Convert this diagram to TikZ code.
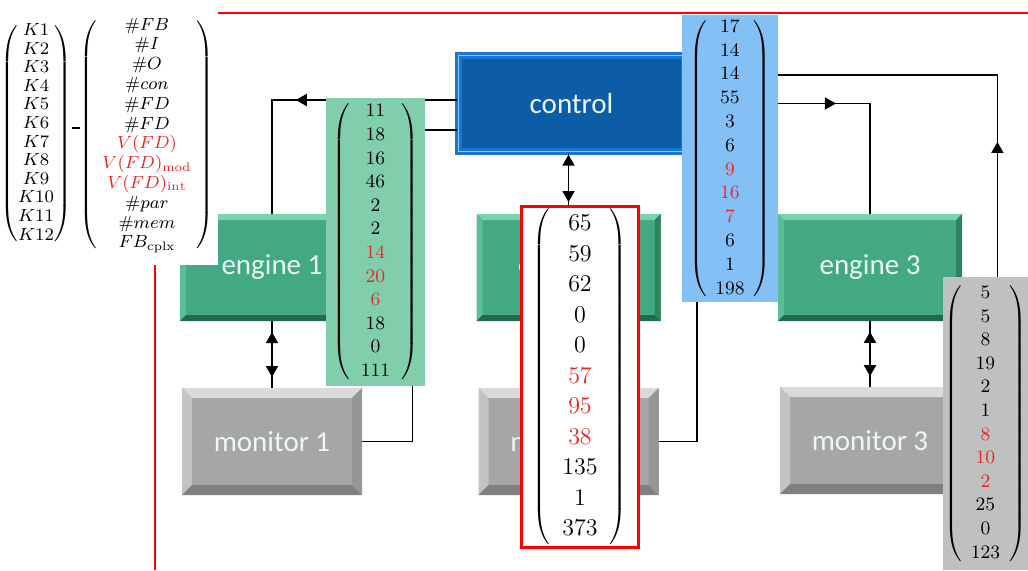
\RequirePackage{fix-cm}
\documentclass[tikz,border=0pt]{standalone}
\usepackage{fontspec}
\usepackage{xcolor}
\usetikzlibrary{arrows.meta, positioning, decorations.markings}
\newfontfamily\boxfont{Carlito}
\definecolor{engfill}{RGB}{67,169,130}
\definecolor{engtop}{RGB}{120,210,170}
\definecolor{engleft}{RGB}{90,190,150}
\definecolor{engbot}{RGB}{35,105,78}
\definecolor{engright}{RGB}{50,130,95}
\definecolor{monfill}{RGB}{166,166,166}
\definecolor{montop}{RGB}{218,218,218}
\definecolor{monleft}{RGB}{195,195,195}
\definecolor{monbot}{RGB}{128,128,128}
\definecolor{monright}{RGB}{150,150,150}
\definecolor{ctrlfill}{RGB}{12,92,168}
\definecolor{ctrlblue}{RGB}{25,118,210}
\definecolor{ctrllight}{RGB}{150,200,240}
\definecolor{greenvec}{RGB}{128,206,172}
\definecolor{bluevec}{RGB}{130,192,245}
\definecolor{greyvec}{RGB}{192,192,192}
\definecolor{vecred}{RGB}{230,40,40}
\definecolor{boxtext}{RGB}{235,248,245}
\newcommand{\colvec}[4]{{\fontsize{#2}{#3}\selectfont\setlength{\arraycolsep}{#1}$\left(\begin{array}{c}#4\end{array}\right)$}}
\newcommand{\redval}[1]{\textcolor{vecred}{#1}}

\begin{document}
\begin{tikzpicture}[
    x=0.5pt, y=-0.5pt,
    >=latex,
    % Styles for the bevelled boxes
    bevel/.style n args={5}{path picture={
        \coordinate (bnw) at (path picture bounding box.north west);
        \coordinate (bse) at (path picture bounding box.south east);
        \coordinate (bne) at (bnw -| bse);
        \coordinate (bsw) at (bnw |- bse);
        \fill[#2] (bnw) -- (bne) -- ([shift={(-#1,-#1)}]bne) -- ([shift={(#1,-#1)}]bnw) -- cycle;
        \fill[#3] (bnw) -- ([shift={(#1,-#1)}]bnw) -- ([shift={(#1,#1)}]bsw) -- (bsw) -- cycle;
        \fill[#4] (bsw) -- (bse) -- ([shift={(-#1,#1)}]bse) -- ([shift={(#1,#1)}]bsw) -- cycle;
        \fill[#5] (bne) -- (bse) -- ([shift={(-#1,#1)}]bse) -- ([shift={(-#1,-#1)}]bne) -- cycle;
    }},
    boxlabel/.style={text=boxtext, font=\boxfont\fontsize{14.5}{17}\selectfont},
    engine/.style={boxlabel, fill=engfill, bevel={3pt}{engtop}{engleft}{engbot}{engright}, minimum width=92pt, minimum height=53.5pt},
    monitor/.style={boxlabel, fill=monfill, bevel={5pt}{montop}{monleft}{monbot}{monright}, minimum width=90pt, minimum height=53.5pt},
    control/.style={boxlabel, fill=ctrlfill, draw=ctrlblue, double=ctrllight, double distance=0.6pt, line width=1.4pt, minimum width=113pt, minimum height=48pt},
    vecbox/.style={fill=#1, inner sep=0pt},
    link/.style={draw=black, line width=0.9pt},
    midarrow/.style={postaction={decorate, decoration={markings, mark=at position #1 with {\arrow{Triangle[length=5.5pt, width=6pt]}}}}},
    twoway/.style 2 args={postaction={decorate, decoration={markings,
        mark=at position #1 with {\arrowreversed{Triangle[length=5.5pt, width=6pt]}},
        mark=at position #2 with {\arrow{Triangle[length=5.5pt, width=6pt]}}}}}
]
\useasboundingbox (0,0) rectangle (1028,570);

% ----------------------------------------------------
% Control, engines and monitors
% ----------------------------------------------------
\node[control] (ctrl) at (571.5,103.5) {control};

\node[engine] (eng1) at (272,267.5) {engine 1};
\node[engine] (eng2) at (568.5,267.5) {engine 2};
\node[engine] (eng3) at (870,267.5) {engine 3};

\node[monitor] (mon1) at (272,441.5) {monitor 1};
\node[monitor] (mon2) at (568.5,441.5) {monitor 2};
\node[monitor] (mon3) at (870,440.5) {monitor 3};

% ----------------------------------------------------
% Connections
% ----------------------------------------------------
\draw[link, midarrow=0.54] ([yshift=1.75pt]ctrl.west) -| (eng1.north);
\draw[link, midarrow=0.51] (ctrl.east) -| (eng3.north);
\draw[link, twoway={0.03}{0.81}] (ctrl.south -| eng2.north) -- (eng2.north);
\draw[link, twoway={0.16}{0.84}] (eng1.south) -- (mon1.north);
\draw[link, twoway={0.16}{0.84}] (eng3.south) -- (mon3.north);
\draw[link] (mon1.east) -- ++(50,0) |- ([yshift=-13.25pt]ctrl.west);
\draw[link] (mon2.east) -- ++(38,0) |- ([yshift=-13.25pt]ctrl.east);
\draw[link, midarrow=0.47] (mon3.east) -- ++(37,0) |- ([yshift=14.25pt]ctrl.east);

% ----------------------------------------------------
% Feature legend (top left)
% ----------------------------------------------------
\fill[white] (0,0) rectangle (218,265);
\node (kvec) at (36,134) {\colvec{0.3pt}{8.8}{9.3}{K1\\K2\\K3\\K4\\K5\\K6\\K7\\K8\\K9\\K10\\K11\\K12}};
\node (minus) at (76,128) {\rule{4pt}{1.3pt}};
\node (fbvec) at (147,135) {\colvec{2.5pt}{8.8}{9.9}{\#FB\\\#I\\\#O\\\#con\\\#FD\\\#FD\\\redval{V(FD)}\\\redval{V(FD)_{\mathrm{mod}}}\\\redval{V(FD)_{\mathrm{int}}}\\\#par\\\#mem\\FB_{\mathrm{cplx}}}};

\draw[red, line width=0.8pt] (218,13) -- (1028,13);
\draw[red, line width=0.8pt] (155,265) -- (155,570);

% ----------------------------------------------------
% Feature vectors of each block
% ----------------------------------------------------
\node[vecbox=greenvec, minimum width=49.5pt, minimum height=144pt] (vgreen) at (375.5,242)
    {\colvec{5.5pt}{9.5}{11.8}{11\\18\\16\\46\\2\\2\\\redval{14}\\\redval{20}\\\redval{6}\\18\\0\\111}};
\node[vecbox=bluevec, minimum width=48pt, minimum height=143.5pt] (vblue) at (730,158.5)
    {\colvec{4.2pt}{9.5}{11.9}{17\\14\\14\\55\\3\\6\\\redval{9}\\\redval{16}\\\redval{7}\\6\\1\\198}};
\node[vecbox=greyvec, minimum width=42.5pt, minimum height=146.5pt] (vgrey) at (985.5,423.5)
    {\colvec{4.5pt}{9.5}{11.8}{5\\5\\8\\19\\2\\1\\\redval{8}\\\redval{10}\\\redval{2}\\25\\0\\123}};
\node[vecbox=white, draw=red, line width=1.6pt, minimum width=58.5pt, minimum height=170.5pt] (vred) at (580,377)
    {\colvec{6pt}{12}{15.25}{65\\59\\62\\0\\0\\\redval{57}\\\redval{95}\\\redval{38}\\135\\1\\373}};

\end{tikzpicture}
\end{document}
